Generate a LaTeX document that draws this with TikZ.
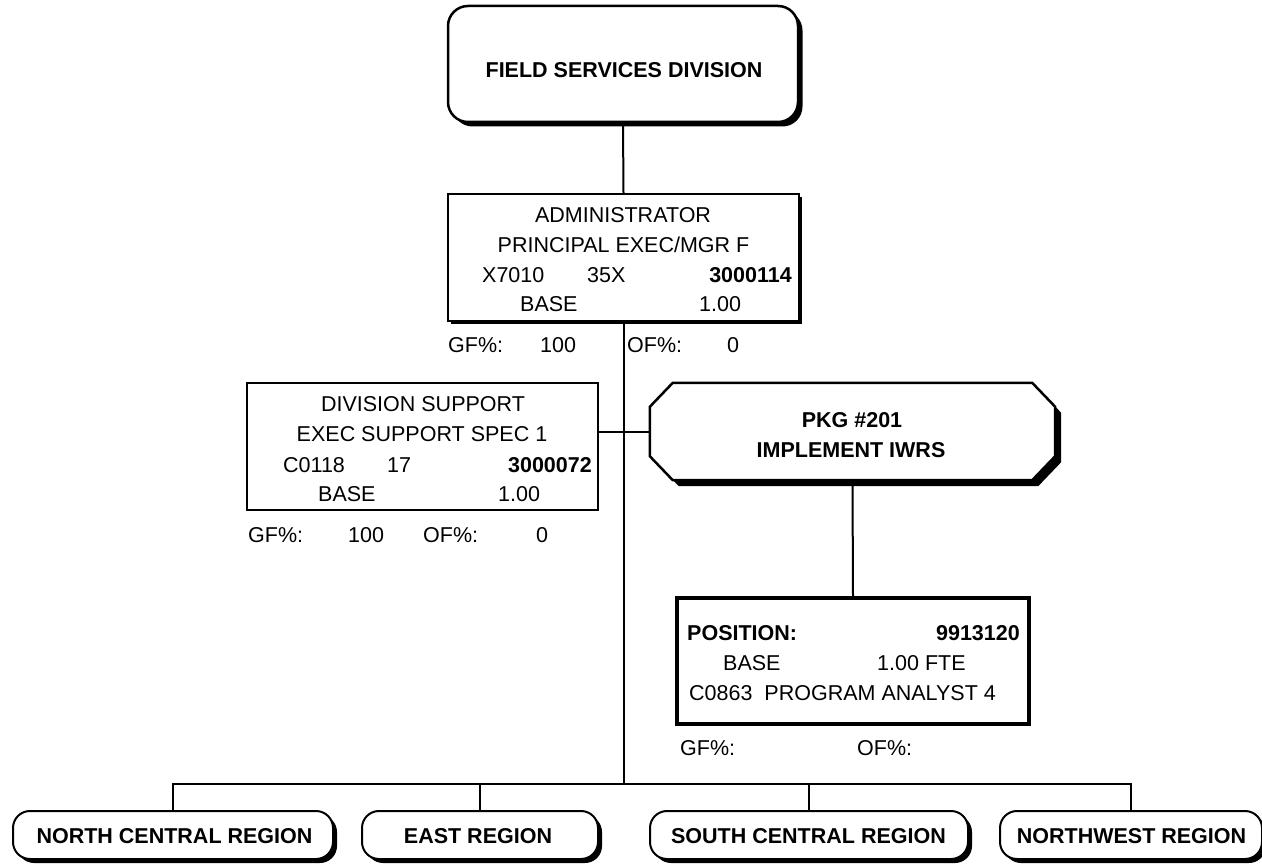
\documentclass[tikz,border=0pt]{standalone}
\usepackage{fontspec}
\setmainfont{Liberation Sans}
\usetikzlibrary{shadows,calc}

\begin{document}
\begin{tikzpicture}[x=1pt,y=-1pt,
  txt/.style={inner sep=0pt, font=\fontsize{21.5pt}{24pt}\selectfont, text height=15.4pt, text depth=0pt},
  btxt/.style={txt, font=\fontsize{21.5pt}{24pt}\selectfont\bfseries},
  conn/.style={line width=2pt},
  blackshadow/.style={drop shadow={shadow xshift=#1, shadow yshift=-#1, fill=black, opacity=1}},
  divisionbox/.style={draw, fill=white, line width=2.5pt, rounded corners=20pt,
    minimum width=350pt, minimum height=116pt, inner sep=0pt, blackshadow=4.5pt},
  posbox/.style={draw, fill=white, line width=2pt, minimum width=351pt,
    minimum height=127pt, inner sep=0pt, blackshadow=#1},
  pkgframe/.style={draw, fill=white, line width=2.5pt, blackshadow=6pt},
  newposbox/.style={draw, fill=white, line width=4pt, minimum width=352pt,
    minimum height=126pt, inner sep=0pt},
  regionbox/.style={draw, fill=white, line width=2pt, rounded corners=17pt,
    minimum height=48pt, inner sep=0pt, blackshadow=4pt},
]
\useasboundingbox (0,0) rectangle (1262,864);

% ---------- boxes ----------
\node[divisionbox] (fsd) at (623,64) {};
\node[posbox=3pt] (adm) at (623.5,257.5) {};
\node[posbox=1.2pt] (div) at (422.5,446.5) {};
\node[inner sep=0pt, minimum width=405pt, minimum height=97pt] (pkg) at (852.5,431.5) {};
\node[newposbox] (pos) at (853,661) {};

\node[regionbox, minimum width=320pt] (nc) at (173,835) {};
\node[regionbox, minimum width=236pt] (ea) at (480,835) {};
\node[regionbox, minimum width=318pt] (sc) at (809,835) {};
\node[regionbox, minimum width=262pt] (nw) at (1131,835) {};

% ---------- connectors ----------
\coordinate (bus) at (623.5,784);
\draw[conn] (fsd.south) -- (adm.north);
\draw[conn] (adm.south) -- (bus);
\draw[conn] (div.east |- pkg.west) -- (pkg.west);
\draw[conn] (pkg.south) -- (pos.north);
\draw[conn] (nc.north) -- (nc.north |- bus) -- (nw.north |- bus) -- (nw.north);
\draw[conn] (ea.north) -- (ea.north |- bus);
\draw[conn] (sc.north) -- (sc.north |- bus);

% octagonal package frame
\draw[pkgframe]
  ($(pkg.north west)+(23,0)$) -- ($(pkg.north east)+(-23,0)$)
  -- ($(pkg.north east)+(0,24)$) -- ($(pkg.south east)+(0,-24)$)
  -- ($(pkg.south east)+(-23,0)$) -- ($(pkg.south west)+(23,0)$)
  -- ($(pkg.south west)+(0,-24)$) -- ($(pkg.north west)+(0,24)$) -- cycle;

% ---------- texts ----------
\node[btxt] (fsdt) at (624,70) {FIELD SERVICES DIVISION};

\node[txt] (adm1) at (623,215) {ADMINISTRATOR};
\node[txt] (adm2) at (623.5,245) {PRINCIPAL EXEC/MGR F};
\node[txt, anchor=west] (adm3a) at (482,275) {X7010};
\node[txt, anchor=west] (adm3b) at (587,275) {35X};
\node[btxt, anchor=east] (adm3c) at (792,275) {3000114};
\node[txt, anchor=west] (adm4a) at (520,304) {BASE};
\node[txt, anchor=west] (adm4b) at (699,304) {1.00};
\node[txt, anchor=west] (admgf) at (448,345) {GF\%:};
\node[txt, anchor=west] (admgfv) at (540,345) {100};
\node[txt, anchor=west] (admof) at (627,345) {OF\%:};
\node[txt] (admofv) at (733,345) {0};

\node[txt] (div1) at (423,403.5) {DIVISION SUPPORT};
\node[txt] (div2) at (422,433.5) {EXEC SUPPORT SPEC 1};
\node[txt, anchor=west] (div3a) at (283,464.5) {C0118};
\node[txt, anchor=west] (div3b) at (387,464.5) {17};
\node[btxt, anchor=east] (div3c) at (592,464.5) {3000072};
\node[txt, anchor=west] (div4a) at (318,494) {BASE};
\node[txt, anchor=west] (div4b) at (498,494) {1.00};
\node[txt, anchor=west] (divgf) at (248,534.5) {GF\%:};
\node[txt, anchor=west] (divgfv) at (348,534.5) {100};
\node[txt, anchor=west] (divof) at (423,534.5) {OF\%:};
\node[txt] (divofv) at (542,534.5) {0};

\node[btxt] (pkg1) at (852,420) {PKG \#201};
\node[btxt] (pkg2) at (851,450) {IMPLEMENT IWRS};

\node[btxt, anchor=west] (pos1a) at (687,633) {POSITION:};
\node[btxt, anchor=east] (pos1b) at (1020,633) {9913120};
\node[txt, anchor=west] (pos2a) at (723,663) {BASE};
\node[txt, anchor=west] (pos2b) at (877,663) {1.00 FTE};
\node[txt, anchor=west] (pos3) at (689,693) {C0863\ \ PROGRAM ANALYST 4};
\node[txt, anchor=west] (posgf) at (680,748) {GF\%:};
\node[txt, anchor=west] (posof) at (857,748) {OF\%:};

\node[btxt] (nct) at (174.5,836) {NORTH CENTRAL REGION};
\node[btxt] (eat) at (478,836) {EAST REGION};
\node[btxt] (sct) at (808.5,836) {SOUTH CENTRAL REGION};
\node[btxt] (nwt) at (1131.5,836) {NORTHWEST REGION};
\end{tikzpicture}
\end{document}
